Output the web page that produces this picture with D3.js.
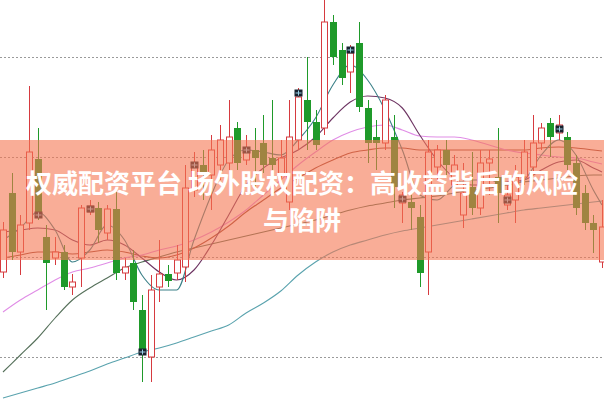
<!DOCTYPE html>
<html><head><meta charset="utf-8">
<script src="https://cdn.jsdelivr.net/npm/d3@7/dist/d3.min.js"></script>
<style>html,body{margin:0;padding:0;background:#fff;overflow:hidden}</style>
</head><body>
<svg id="c" width="604" height="401"></svg>
<script>
// ---- data (price units) ----
const openV  = [18.5,26.4,20.5,23.4,29.8,22.0,19.9,20.5,17.0,19.9,24.5,24.9,22.4,24.8,18.4,19.4,14.7,10.0,17.0,18.3,18.4,19.0,26.7,29.2,28.2,29.2,29.4,32.9,29.7,30.7,31.4,29.9,28.2,25.5,31.7,35.7,33.5,32.9,43.5,40.7,38.5,41.4,34.9,32.0,31.4,32.0,25.4,25.5,24.0,20.5,29.0,30.7,27.2,24.2,27.0,24.9,29.4,28.0,25.2,25.7,28.0,29.0,31.4,33.4,32.4,32.0,29.4,26.4,23.4,19.5];
const closeV = [22.7,20.5,23.2,30.5,24.5,19.4,20.5,17.0,17.5,24.9,25.1,22.7,24.8,18.4,19.0,15.5,10.5,16.7,18.3,17.6,19.7,26.9,29.2,28.5,30.7,31.7,32.0,29.4,30.9,29.9,29.2,29.2,29.9,32.0,36.0,33.5,31.2,43.5,40.0,37.9,40.4,35.0,31.4,31.4,35.7,27.0,26.2,24.9,18.4,30.5,30.7,29.2,29.2,26.4,24.9,29.4,29.8,26.4,26.2,28.0,30.5,31.4,32.9,32.0,33.2,29.2,24.9,23.4,22.7,23.0];
const highV  = [23.5,28.4,24.2,37.1,32.9,23.2,22.0,21.2,18.3,25.2,25.7,25.5,25.2,26.5,19.9,20.7,16.2,18.2,21.7,19.2,21.2,29.2,30.5,30.7,32.2,33.2,35.7,33.5,32.2,32.9,34.2,35.7,31.7,35.7,36.9,40.0,34.7,45.7,44.2,41.4,41.2,43.5,35.7,33.7,36.2,34.2,26.5,26.2,25.2,31.7,31.2,31.7,30.2,29.4,30.5,30.7,30.7,32.9,27.2,29.2,31.7,34.2,33.4,33.9,34.2,32.5,30.2,27.2,24.2,25.7];
const lowV   = [17.9,19.7,18.2,22.7,23.7,14.7,19.2,16.7,16.2,17.0,24.2,21.4,21.7,17.7,17.7,14.7,7.5,7.5,15.5,17.0,17.7,17.5,26.0,25.7,24.7,27.7,28.7,28.7,29.2,26.5,28.4,28.7,27.7,24.7,30.7,30.7,30.7,32.2,39.2,37.2,36.4,34.5,29.4,28.7,30.7,24.9,23.4,22.7,17.0,16.2,27.7,28.2,26.2,22.9,24.2,24.2,26.2,23.4,24.7,23.4,27.2,28.2,30.7,30.0,31.7,28.7,24.2,22.7,20.4,18.9];

const markIdx = [4,10,16,22,28,34,40,46,58,64];
const markVal = [24.2,24.8,10.5,29.2,30.7,36.4,40.7,25.8,25.7,32.8];

// moving-average samples at these candle indices
const maIdx = [0,2,4,6,8,10,12,14,16,18,20,22,24,26,28,30,32,34,36,38,40,42,44,46,48,50,52,54,56,58,60,62,64,66,68,69];
const ma5   = [21.7,22.9,24.5,22.7,19.5,20.7,23.2,21.7,18.2,16.7,16.7,21.7,26.2,29.7,30.7,30.5,30.2,31.7,33.9,37.2,39.2,37.7,34.7,30.7,26.2,25.7,27.2,27.7,27.7,27.2,27.7,30.2,31.7,30.2,26.7,25.2];
const ma10  = [22.5,22.7,22.9,22.7,21.7,21.2,21.7,21.2,19.9,18.5,17.7,18.7,21.2,24.2,27.2,28.9,29.9,30.7,32.0,33.9,35.5,36.1,35.9,34.9,32.2,29.7,27.9,27.2,27.2,27.5,27.7,28.7,29.5,29.7,28.9,28.5];
const ma20  = [14.5,15.7,16.7,17.7,18.5,18.9,19.4,19.9,20.2,20.7,21.1,21.7,22.5,23.5,24.7,26.2,27.7,29.2,30.5,31.7,32.5,33.0,33.2,32.7,32.1,32.0,32.0,31.7,31.2,30.7,30.4,30.2,30.0,29.9,29.5,29.3];
const ma30  = [19.9,20.2,20.5,20.5,20.3,20.5,20.7,20.5,20.1,19.9,20.2,20.9,21.9,23.1,24.5,25.7,26.9,27.9,28.9,29.7,30.4,30.7,30.9,30.9,30.7,30.7,30.7,30.7,30.7,30.7,30.7,30.9,31.0,30.9,30.7,30.6];
const ma60  = [8.5,10.2,11.9,13.9,15.7,16.9,17.9,18.9,19.5,20.0,20.5,20.9,21.3,21.7,22.1,22.5,22.9,23.3,23.7,24.2,24.7,25.1,25.4,25.7,25.9,26.1,26.4,26.7,26.9,27.2,27.5,27.7,27.9,28.1,28.2,28.2];
const ma120 = [5.9,6.4,6.9,7.4,8.0,8.6,9.3,9.9,10.5,10.9,11.4,12.0,12.6,13.2,14.4,15.4,16.6,18.2,19.5,20.5,21.2,21.7,22.2,22.6,22.9,23.2,23.5,23.8,24.1,24.4,24.7,24.9,25.1,25.3,25.5,25.6];

const gridLevels = [40,30,20,10];
const bandRange = [31.7, 19.7];
const titleLines = ["权威配资平台 场外股权配资：高收益背后的风险", "与陷阱"];

// ---- drawing ----
const W = 604, H = 401;
const svg = d3.select("#c");
const n = openV.length;
const x = d3.scalePoint().domain(d3.range(n)).range([3, 602]);
const y = d3.scaleLinear().domain([45.7, 5.6]).range([0, H]);
const RED = "#d63a3f", GREEN = "#1f9a2a";
const bw = 6;

svg.append("rect").attr("width", W).attr("height", H).attr("fill", "#fff");

// grid
svg.append("g").selectAll("line").data(gridLevels).join("line")
  .attr("x1", 0).attr("x2", W)
  .attr("y1", d => Math.round(y(d)) + 0.5).attr("y2", d => Math.round(y(d)) + 0.5)
  .attr("stroke", "#9a9a9a").attr("stroke-width", 1).attr("stroke-dasharray", "2,2");

// MA lines
const maSeries = [
  {v: ma120, c: "#5aa3ae"},
  {v: ma60,  c: "#55705a"},
  {v: ma30,  c: "#9a4535"},
  {v: ma20,  c: "#e08de6"},
  {v: ma10,  c: "#6e3563"},
  {v: ma5,   c: "#3b8088"}
];
const line = d3.line().x((d, i) => x(maIdx[i])).y(d => y(d)).curve(d3.curveMonotoneX);
svg.append("g").selectAll("path").data(maSeries).join("path")
  .attr("d", d => line(d.v)).attr("fill", "none")
  .attr("stroke", d => d.c).attr("stroke-width", 1.1);

// candles
const candles = d3.range(n).map(i => ({i, o: openV[i], c: closeV[i], h: highV[i], l: lowV[i]}));
const g = svg.append("g");
candles.forEach(d => {
  const up = d.c >= d.o;
  const col = up ? RED : GREEN;
  const cx = Math.round(x(d.i)) + 0.5;
  const top = y(Math.max(d.o, d.c)), bot = y(Math.min(d.o, d.c));
  if (up) {
    g.append("line").attr("x1", cx).attr("x2", cx).attr("y1", y(d.h)).attr("y2", top).attr("stroke", col);
    g.append("line").attr("x1", cx).attr("x2", cx).attr("y1", bot).attr("y2", y(d.l)).attr("stroke", col);
    g.append("rect").attr("x", cx - bw/2).attr("y", top).attr("width", bw).attr("height", Math.max(1, bot - top))
      .attr("fill", "#fff").attr("stroke", col).attr("stroke-width", 1);
  } else {
    g.append("line").attr("x1", cx).attr("x2", cx).attr("y1", y(d.h)).attr("y2", y(d.l)).attr("stroke", col);
    g.append("rect").attr("x", cx - bw/2 - 0.5).attr("y", top).attr("width", bw + 1).attr("height", Math.max(1, bot - top))
      .attr("fill", col);
  }
});

// markers
const mg = svg.append("g");
markIdx.forEach((mi, k) => {
  const cx = Math.round(x(mi)) + 0.5, cy = y(markVal[k]);
  mg.append("rect").attr("x", cx - 4).attr("y", cy - 3.5).attr("width", 8).attr("height", 7).attr("fill", "#17222e");
  mg.append("line").attr("x1", cx - 3).attr("x2", cx + 3).attr("y1", cy).attr("y2", cy).attr("stroke", "#9ad0e8").attr("stroke-width", 1);
  mg.append("line").attr("x1", cx).attr("x2", cx).attr("y1", cy - 2.5).attr("y2", cy + 2.5).attr("stroke", "#9ad0e8").attr("stroke-width", 1);
});

// translucent band
svg.append("rect").attr("x", 0).attr("width", W)
  .attr("y", y(bandRange[0])).attr("height", y(bandRange[1]) - y(bandRange[0]))
  .attr("fill", "rgb(245,118,82)").attr("fill-opacity", 0.6);

// title
const t = svg.append("text").attr("text-anchor", "middle")
  .attr("font-family", "'Noto Sans CJK SC', 'Noto Sans', sans-serif")
  .attr("font-weight", "bold").attr("font-size", 26).attr("fill", "#fff");
titleLines.forEach((s, k) => {
  t.append("tspan").attr("x", 302).attr("y", 193 + k * 37).text(s);
});
</script>
</body></html>
